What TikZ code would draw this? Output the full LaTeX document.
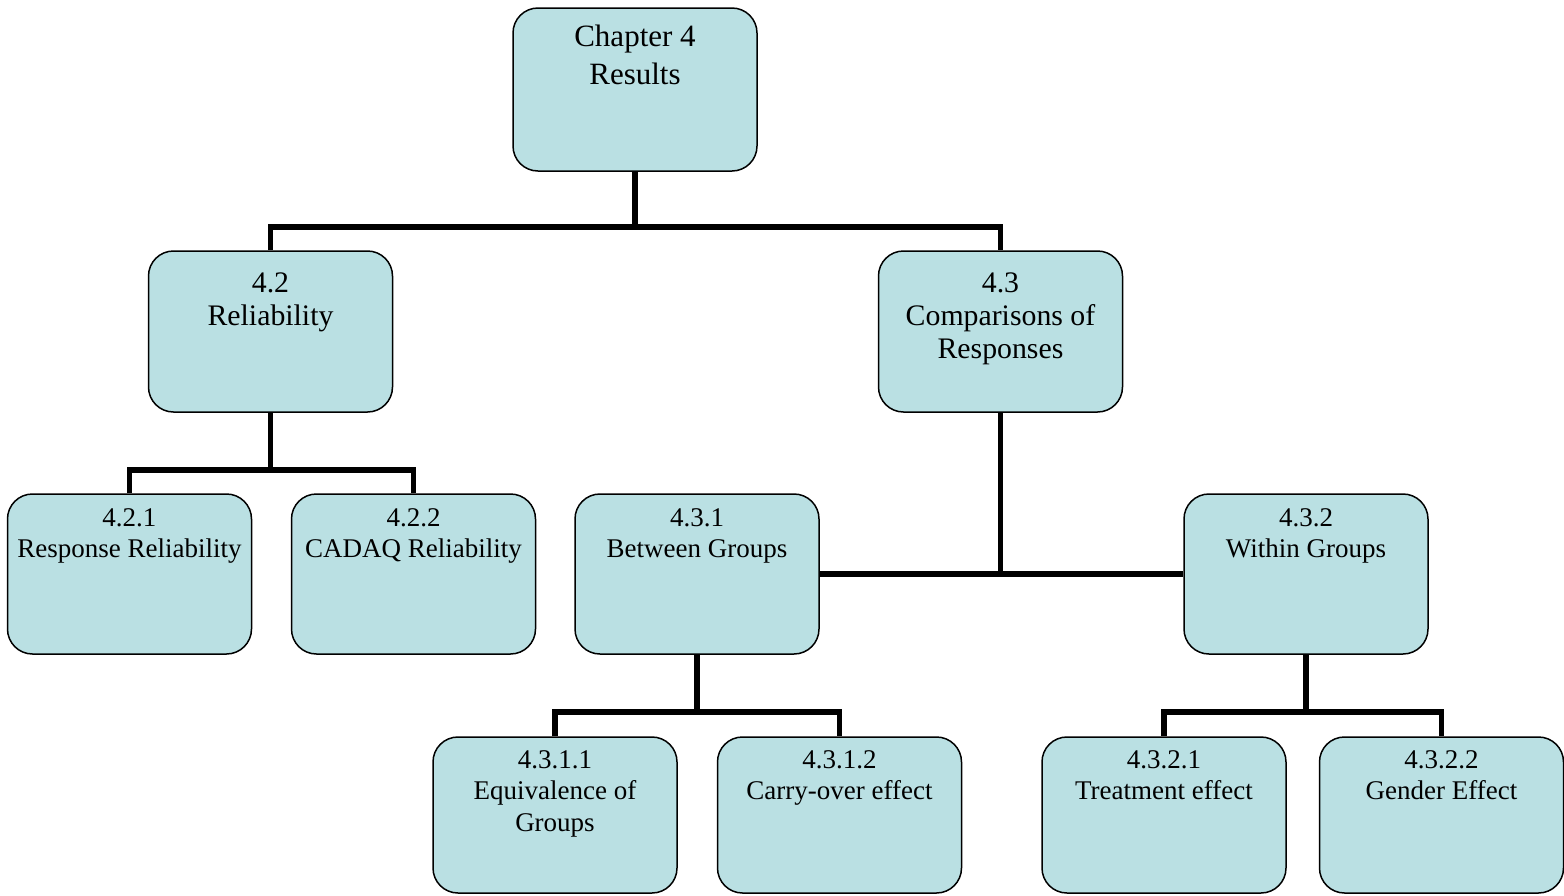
\documentclass[tikz,border=0pt]{standalone}
\usepackage{fontspec}
\setmainfont{Liberation Serif}
\definecolor{boxfill}{RGB}{186,224,227}
\tikzset{
  orgbox/.style={rectangle, draw=black, line width=1.5pt, fill=boxfill, rounded corners=25pt, minimum width=244pt, inner sep=0pt},
  lvltop/.style={orgbox, minimum height=163pt},
  lvltwo/.style={orgbox, minimum height=161pt},
  lvlthree/.style={orgbox, minimum height=160pt},
  lvlfour/.style={orgbox, minimum height=156pt},
  conn/.style={line width=5.5pt, draw=black},
  bigtxt/.style={anchor=north, inner sep=0pt, align=center, font=\fontsize{31}{38}\selectfont},
  midtxt/.style={anchor=north, inner sep=0pt, align=center, font=\fontsize{29.8}{33}\selectfont},
  smltxt/.style={anchor=north, inner sep=0pt, align=center, font=\fontsize{27}{31.5}\selectfont},
}
\begin{document}
\begin{tikzpicture}[x=1pt, y=-1pt]
\useasboundingbox (0,0) rectangle (1564,895);
% boxes
\node[lvltop] (chap) at (635,89.5) {};
\node[lvltwo] (n42) at (270.5,331.5) {};
\node[lvltwo] (n43) at (1000.5,331.5) {};
\node[lvlthree] (n421) at (129.5,574) {};
\node[lvlthree] (n422) at (413.5,574) {};
\node[lvlthree] (n431) at (697,574) {};
\node[lvlthree] (n432) at (1306,574) {};
\node[lvlfour] (n4311) at (555,815) {};
\node[lvlfour] (n4312) at (839.5,815) {};
\node[lvlfour] (n4321) at (1164,815) {};
\node[lvlfour] (n4322) at (1441.5,815) {};
% texts
\node[bigtxt] (tchap) at ([yshift=-18pt]chap.north) {Chapter 4\\Results};
\node[midtxt] (t42) at ([yshift=-22pt]n42.north) {4.2\\Reliability};
\node[midtxt] (t43) at ([yshift=-22pt]n43.north) {4.3\\Comparisons of\\Responses};
\node[smltxt] (t421) at ([yshift=-15pt]n421.north) {4.2.1\\Response Reliability};
\node[smltxt] (t422) at ([yshift=-15pt]n422.north) {4.2.2\\CADAQ Reliability};
\node[smltxt] (t431) at ([yshift=-15pt]n431.north) {4.3.1\\Between Groups};
\node[smltxt] (t432) at ([yshift=-15pt]n432.north) {4.3.2\\Within Groups};
\node[smltxt] (t4311) at ([yshift=-14pt]n4311.north) {4.3.1.1\\Equivalence of\\Groups};
\node[smltxt] (t4312) at ([yshift=-14pt]n4312.north) {4.3.1.2\\Carry-over effect};
\node[smltxt] (t4321) at ([yshift=-14pt]n4321.north) {4.3.2.1\\Treatment effect};
\node[smltxt] (t4322) at ([yshift=-14pt]n4322.north) {4.3.2.2\\Gender Effect};
% junctions
\coordinate (j0) at (635,227);
\coordinate (j42) at (270.5,470);
\coordinate (j431) at (697,712);
\coordinate (j432) at (1306,712);
% connectors
\draw[conn] (chap.south) -- (j0);
\draw[conn] (n42.north) |- (j0) -| (n43.north);
\draw[conn] (n42.south) -- (j42);
\draw[conn] (n421.north) |- (j42) -| (n422.north);
\draw[conn] (n43.south) -- (n43.south |- n431.east);
\draw[conn] (n431.east) -- (n432.west);
\draw[conn] (n431.south) -- (j431);
\draw[conn] (n4311.north) |- (j431) -| (n4312.north);
\draw[conn] (n432.south) -- (j432);
\draw[conn] (n4321.north) |- (j432) -| (n4322.north);
\end{tikzpicture}
\end{document}
